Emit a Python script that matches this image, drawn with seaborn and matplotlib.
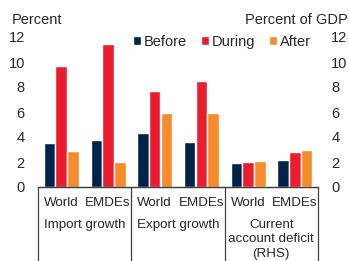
import pandas as pd
import matplotlib.pyplot as plt
from matplotlib.transforms import blended_transform_factory
import seaborn as sns

# values
groups = ["Import growth", "Export growth", "Current\naccount deficit\n(RHS)"]
regions = ["World", "EMDEs"]
periods = ["Before", "During", "After"]
colors = ["#002449", "#EB1C2D", "#F68D2A"]

before = [3.5, 3.75, 4.3, 3.6, 1.9, 2.2]
during = [9.7, 11.45, 7.65, 8.5, 1.97, 2.8]
after = [2.9, 2.0, 5.9, 5.9, 2.05, 2.95]
rhs = [False, False, False, False, True, True]

slots = [g + " | " + r for g in groups for r in regions]
tick_labels = [r for g in groups for r in regions]

rows = []
for i, s in enumerate(slots):
    for p, vals in zip(periods, [before, during, after]):
        rows.append({"slot": s, "period": p, "value": vals[i], "rhs": rhs[i]})
df = pd.DataFrame(rows)

sns.set_style("white")
plt.rcParams["font.family"] = ["Liberation Sans", "DejaVu Sans"]
fs = 10.5
fs_x = 9.6

fig = plt.figure(figsize=(3.49, 2.61), dpi=100)
ax = fig.add_axes([38 / 349, 1 - 187 / 261, 280 / 349, 150 / 261])
ax2 = ax.twinx()

sns.barplot(data=df[~df["rhs"]], x="slot", y="value", hue="period", order=slots,
            hue_order=periods, palette=colors, width=0.75, ax=ax, saturation=1)
sns.barplot(data=df[df["rhs"]], x="slot", y="value", hue="period", order=slots,
            hue_order=periods, palette=colors, width=0.75, ax=ax2, saturation=1,
            legend=False)

for a in (ax, ax2):
    a.set_ylim(0, 12)
    a.set_yticks(range(0, 13, 2))
    a.set_ylabel("")
    a.set_xlabel("")
    for side in ["left", "right", "top"]:
        a.spines[side].set_visible(False)
    a.spines["bottom"].set_color("#404040")
    a.spines["bottom"].set_linewidth(0.9)
ax.set_xlim(-0.5, 5.5)

ax.tick_params(axis="y", length=0, pad=9.5, labelsize=fs)
ax2.tick_params(axis="y", length=0, pad=9.5, labelsize=fs)
ax.set_xticks(range(6))
ax.set_xticklabels(tick_labels, fontsize=fs_x)
ax.tick_params(axis="x", length=0, pad=7)

# group separators and group labels below the axis
for x in [-0.5, 1.5, 3.5, 5.5]:
    ax.plot([x, x], [0, -0.5], transform=ax.get_xaxis_transform(), color="#404040",
            lw=0.9, clip_on=False)
trans = blended_transform_factory(ax.transData, fig.transFigure)
for i, g in enumerate(groups):
    ax.text(2 * i + 0.5, 1 - 219 / 261, g, transform=trans,
            ha="center", va="top", fontsize=fs_x, linespacing=1.27)

fig.text(12 / 349, 1 - 20 / 261, "Percent", fontsize=fs, va="center", ha="left")
fig.text(348 / 349, 1 - 20 / 261, "Percent of GDP", fontsize=fs, va="center", ha="right")

handles, labels = ax.get_legend_handles_labels()
ax.legend(handles, labels, loc="center left", bbox_to_anchor=(133 / 349, 1 - 42 / 261),
          bbox_transform=fig.transFigure, ncol=3, frameon=False, fontsize=fs,
          borderpad=0, borderaxespad=0, handlelength=0.55, handleheight=0.55,
          handletextpad=0.2, columnspacing=0.95)

fig.savefig("out.png", dpi=100)
